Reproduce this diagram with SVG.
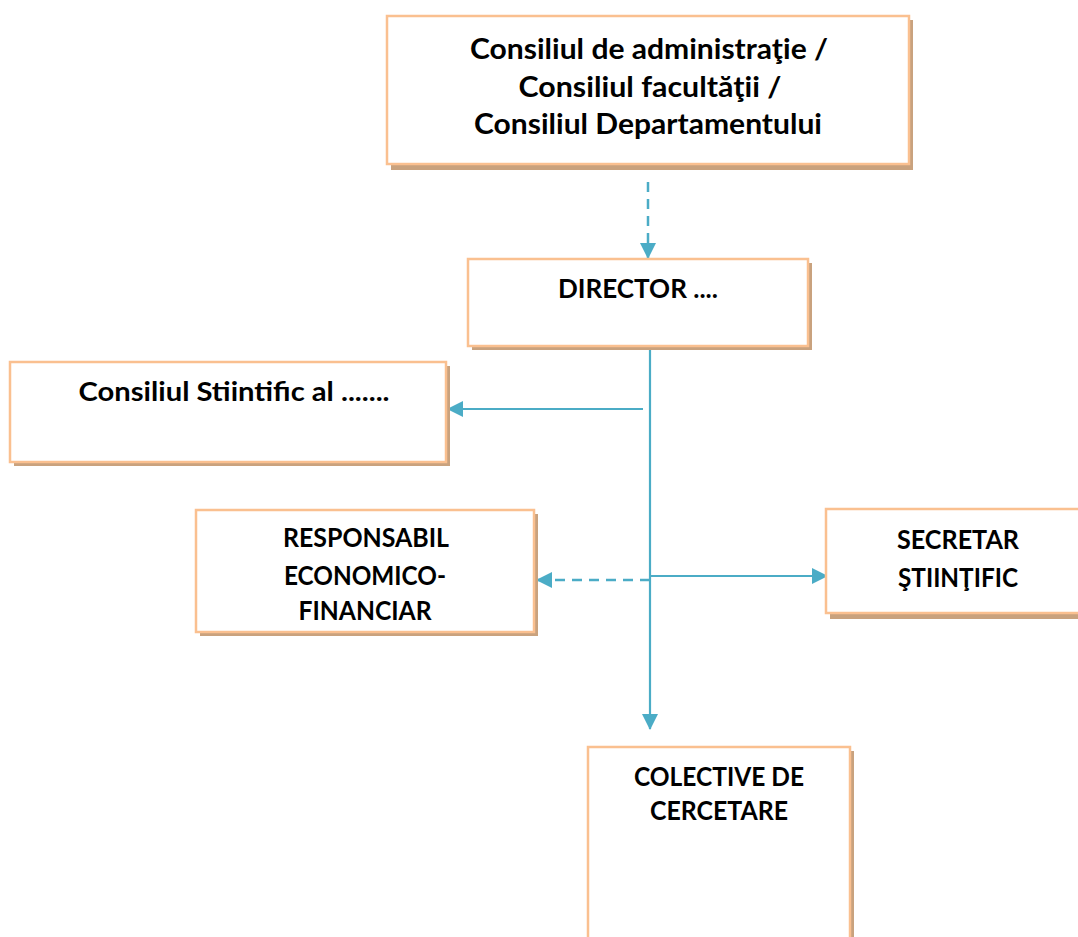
<svg xmlns="http://www.w3.org/2000/svg" width="1078" height="937" viewBox="0 0 1078 937">
<style>
.box{fill:#ffffff;stroke:#fac090;stroke-width:2.5}
.sh{fill:#c9a27e}
.t{font-family:Lato,"Liberation Sans",sans-serif;font-weight:bold;font-size:26px;fill:#000;text-anchor:middle}
.big{font-size:28px}
.ln{stroke:#4bacc6;stroke-width:2.2;fill:none}
.dash{stroke-dasharray:10,7;stroke-width:2.5}
</style>
<defs>
<marker id="ah2" markerWidth="16" markerHeight="16" refX="15" refY="8" orient="auto" markerUnits="userSpaceOnUse" viewBox="0 0 16 16">
<path d="M0,0 L16,8 L0,16 z" fill="#4bacc6"/>
</marker>
</defs>
<rect width="1078" height="937" fill="#ffffff"/>
<g id="connectors">
<line class="ln dash" x1="648" y1="182" x2="648" y2="258" marker-end="url(#ah2)"/>
<line class="ln" x1="650" y1="347" x2="650" y2="729" marker-end="url(#ah2)"/>
<line class="ln" x1="643" y1="409" x2="448" y2="409" marker-end="url(#ah2)"/>
<line class="ln dash" x1="650" y1="580" x2="537" y2="580" marker-end="url(#ah2)"/>
<line class="ln" x1="650" y1="576" x2="827" y2="576" marker-end="url(#ah2)"/>
</g>
<g id="n-consiliu-admin">
<rect class="sh" x="391" y="20" width="522" height="150"/>
<rect class="box" x="387" y="16" width="522" height="148"/>
<text class="t big" x="649" y="59" textLength="358" lengthAdjust="spacingAndGlyphs">Consiliul de administraţie /</text>
<text class="t big" x="650" y="97" textLength="263" lengthAdjust="spacingAndGlyphs">Consiliul facultăţii /</text>
<text class="t big" x="648" y="134" textLength="348" lengthAdjust="spacingAndGlyphs">Consiliul Departamentului</text>
</g>
<g id="n-director">
<rect class="sh" x="472" y="263" width="340" height="87"/>
<rect class="box" x="468" y="259" width="340" height="87"/>
<text class="t" x="638" y="298" textLength="160" lengthAdjust="spacingAndGlyphs">DIRECTOR ....</text>
</g>
<g id="n-consiliu-stiintific">
<rect class="sh" x="14" y="366" width="436" height="100"/>
<rect class="box" x="10" y="362" width="436" height="100"/>
<text class="t" x="234" y="401" textLength="311" lengthAdjust="spacingAndGlyphs">Consiliul Stiintific al .......</text>
</g>
<g id="n-responsabil">
<rect class="sh" x="200" y="514" width="338" height="122"/>
<rect class="box" x="196" y="510" width="338" height="122"/>
<text class="t" x="366" y="547" textLength="166" lengthAdjust="spacingAndGlyphs">RESPONSABIL</text>
<text class="t" x="365" y="585" textLength="162" lengthAdjust="spacingAndGlyphs">ECONOMICO-</text>
<text class="t" x="365" y="620" textLength="133" lengthAdjust="spacingAndGlyphs">FINANCIAR</text>
</g>
<g id="n-secretar">
<rect class="sh" x="830" y="513" width="260" height="106"/>
<rect class="box" x="826" y="509" width="260" height="104"/>
<text class="t" x="958" y="549" textLength="122" lengthAdjust="spacingAndGlyphs">SECRETAR</text>
<text class="t" x="958" y="587" textLength="120" lengthAdjust="spacingAndGlyphs">ŞTIINŢIFIC</text>
</g>
<g id="n-colective">
<rect class="sh" x="592" y="751" width="262" height="200"/>
<rect class="box" x="588" y="747" width="262" height="200"/>
<text class="t" x="719" y="786" textLength="170" lengthAdjust="spacingAndGlyphs">COLECTIVE DE</text>
<text class="t" x="719" y="820" textLength="138" lengthAdjust="spacingAndGlyphs">CERCETARE</text>
</g>
</svg>
